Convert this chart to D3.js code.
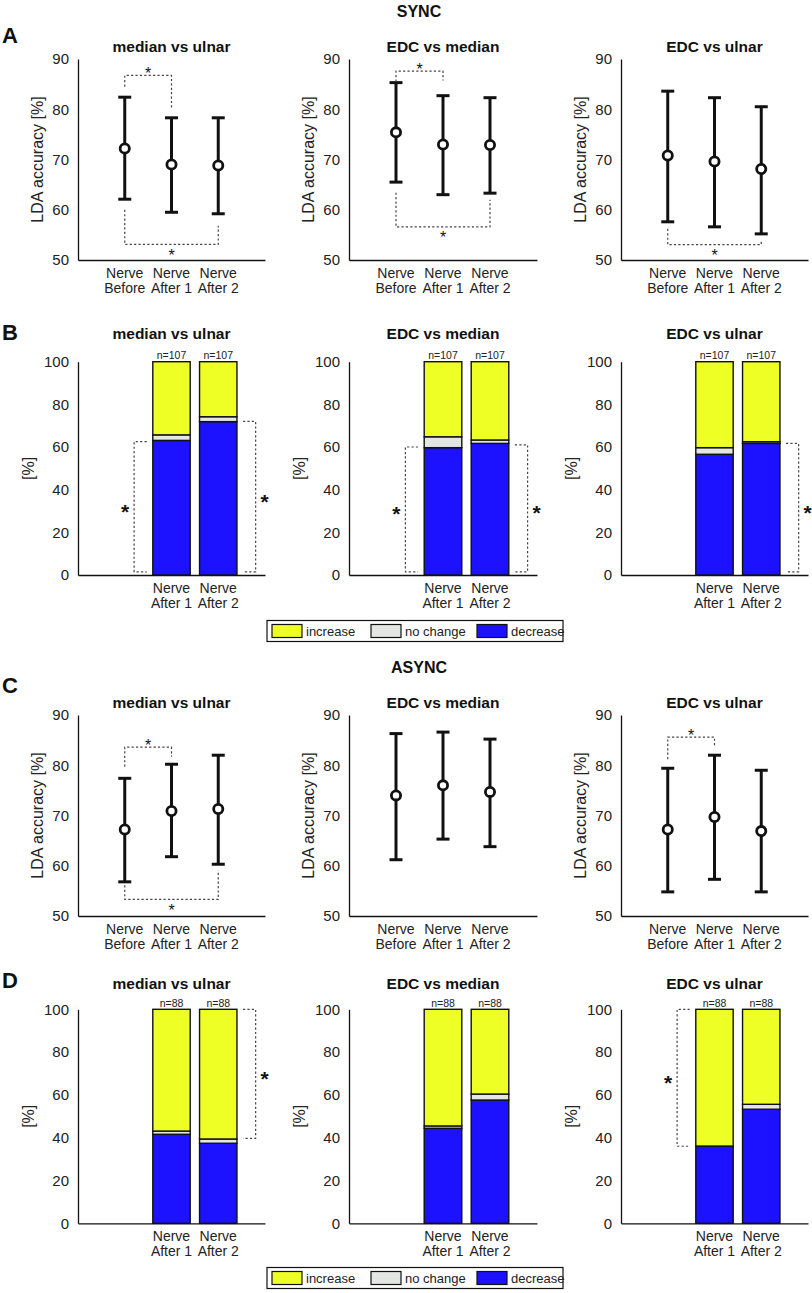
<!DOCTYPE html>
<html><head><meta charset="utf-8">
<script src="https://cdn.jsdelivr.net/npm/d3@7"></script>
<style>body{margin:0;background:#fff;} svg{display:block;font-family:Arial,"Liberation Sans",sans-serif;}</style>
</head><body><svg id="c" width="812" height="1293"></svg>
<script>
// ---------------- DATA ----------------
const pairs = ["median vs ulnar", "EDC vs median", "EDC vs ulnar"];
const categories = ["Nerve\nBefore", "Nerve\nAfter 1", "Nerve\nAfter 2"];
const accTicks = [50, 60, 70, 80, 90];
const pctTicks = [0, 20, 40, 60, 80, 100];

// SYNC: LDA accuracy (mean, upper and lower error bar ends)
const syncMean  = [[72.2, 69.0, 68.8], [75.4, 73.0, 72.9], [70.8, 69.6, 68.1]];
const syncUpper = [[82.4, 78.3, 78.3], [85.3, 82.7, 82.3], [83.6, 82.3, 80.5]];
const syncLower = [[62.1, 59.5, 59.2], [65.5, 63.0, 63.3], [57.6, 56.6, 55.2]];
// ASYNC
const asyncMean  = [[67.2, 70.9, 71.3], [74.0, 76.0, 74.7], [67.2, 69.7, 66.9]];
const asyncUpper = [[77.4, 80.2, 82.0], [86.3, 86.6, 85.2], [79.4, 82.0, 79.0]];
const asyncLower = [[56.8, 61.8, 60.3], [61.2, 65.3, 63.8], [54.8, 57.3, 54.8]];

// Stacked bars (After 1, After 2) in %
const syncDecrease = [[63.1, 71.9], [59.7, 61.7], [56.6, 61.7]];
const syncNoChange = [[2.6, 2.3], [5.1, 1.6], [3.1, 0.8]];
const syncIncrease = [[34.3, 25.8], [35.2, 36.7], [40.3, 37.5]];
const asyncDecrease = [[41.6, 37.4], [44.4, 57.6], [36.1, 53.3]];
const asyncNoChange = [[1.5, 2.0], [1.1, 2.8], [0.0, 2.3]];
const asyncIncrease = [[56.9, 60.6], [54.5, 39.6], [63.9, 44.4]];
const syncN = [107, 107];
const asyncN = [88, 88];
const legendLabels = ["increase", "no change", "decrease"];

// significance brackets on accuracy panels: [pair, fromCat, toCat, level, endFrom, endTo, side]
const syncAccSig = [
  [0, 0, 1, 86.75, 84.5, 79.9, "top"],
  [0, 0, 2, 53.1, 60.0, 56.8, "bottom"],
  [1, 0, 1, 87.6, 85.5, 85.7, "top"],
  [1, 0, 2, 56.6, 63.4, 62.0, "bottom"],
  [2, 0, 2, 53.05, 56.2, 54.0, "bottom"]
];
const asyncAccSig = [
  [0, 0, 1, 83.6, 79.7, 81.7, "top"],
  [0, 0, 2, 53.3, 56.1, 59.1, "bottom"],
  [2, 0, 1, 85.6, 81.2, 83.9, "top"]
];
// significance brackets on bar panels: [pair, barIndex, side, from, to]
const syncBarSig = [
  [0, 0, "left", 1.5, 62.5],
  [0, 1, "right", 1.5, 72.0],
  [1, 0, "left", 1.5, 60.0],
  [1, 1, "right", 1.5, 61.0],
  [2, 1, "right", 1.5, 61.7]
];
const asyncBarSig = [
  [0, 1, "right", 39.7, 100],
  [2, 0, "left", 36.0, 100]
];

// ---------------- LAYOUT ----------------
const svg = d3.select("#c");
const FONT = "Arial, 'Liberation Sans', sans-serif";
const colRange = [[78, 265], [349, 537], [621, 808]];
const colors = {increase: "#eeff26", nochange: "#e3e6e3", decrease: "#1c12ff"};
const xOf = c => d3.scaleLinear().domain([0, 4]).range(colRange[c]);

function styleAxis(g) {
  g.select(".domain").attr("stroke", "#111").attr("stroke-width", 1.3);
  g.selectAll("text").attr("font-size", 15).attr("fill", "#222").attr("font-family", FONT);
}

function frame(c, y, ticks, yTitle, yTitleOff) {
  const x = xOf(c);
  const [yb, yt] = y.range();
  const gy = svg.append("g").attr("transform", `translate(${colRange[c][0]},0)`)
    .call(d3.axisLeft(y).tickValues(ticks).tickSize(0).tickPadding(9).tickSizeOuter(0));
  styleAxis(gy);
  const gx = svg.append("g").attr("transform", `translate(0,${yb})`)
    .call(d3.axisBottom(x).tickValues([]).tickSizeOuter(0));
  styleAxis(gx);
  svg.append("text").attr("transform", `translate(${colRange[c][0] - yTitleOff},${(yb + yt) / 2}) rotate(-90)`)
    .attr("text-anchor", "middle").attr("dominant-baseline", "central")
    .attr("font-size", 16).attr("fill", "#222").attr("font-family", FONT).text(yTitle);
  return x;
}

function catLabels(x, yb, idxs) {
  idxs.forEach(i => {
    const lines = categories[i].split("\n");
    lines.forEach((ln, k) => {
      svg.append("text").attr("x", x(i + 1)).attr("y", yb + 17.5 + k * 15.5)
        .attr("text-anchor", "middle").attr("font-size", 14).attr("fill", "#222")
        .attr("font-family", FONT).text(ln);
    });
  });
}

function title(c, yBase, txt) {
  svg.append("text").attr("x", (colRange[c][0] + colRange[c][1]) / 2).attr("y", yBase)
    .attr("text-anchor", "middle").attr("font-size", 15.5).attr("font-weight", "bold")
    .attr("fill", "#111").attr("font-family", FONT).text(txt);
}

function star(xp, cy, fs, bold) {
  svg.append("text").attr("x", xp).attr("y", cy + 0.57 * fs).attr("text-anchor", "middle")
    .attr("font-size", fs).attr("font-weight", bold ? "bold" : "normal")
    .attr("fill", "#111").attr("font-family", FONT).text("*");
}

function dotted(d) {
  svg.append("path").attr("d", d).attr("fill", "none").attr("stroke", "#444")
    .attr("stroke-width", 1.2).attr("stroke-dasharray", "2.2,2.2");
}

function accRow(yRange, mean, upper, lower, sig, titleBase) {
  const y = d3.scaleLinear().domain([50, 90]).range(yRange);
  for (let c = 0; c < 3; c++) {
    const x = frame(c, y, accTicks, "LDA accuracy [%]", 41);
    title(c, titleBase, pairs[c]);
    catLabels(x, yRange[0], [0, 1, 2]);
    const g = svg.append("g");
    mean[c].forEach((m, i) => {
      const xp = x(i + 1);
      g.append("line").attr("x1", xp).attr("x2", xp).attr("y1", y(lower[c][i])).attr("y2", y(upper[c][i]))
        .attr("stroke", "#111").attr("stroke-width", 3);
      [upper[c][i], lower[c][i]].forEach(v => g.append("line").attr("x1", xp - 6.5).attr("x2", xp + 6.5)
        .attr("y1", y(v)).attr("y2", y(v)).attr("stroke", "#111").attr("stroke-width", 3));
      g.append("circle").attr("cx", xp).attr("cy", y(m)).attr("r", 4.6)
        .attr("fill", "#fff").attr("stroke", "#111").attr("stroke-width", 2.8);
    });
  }
  sig.forEach(([c, a, b, lvl, e1, e2, side]) => {
    const x = xOf(c);
    dotted(`M${x(a + 1)},${y(e1)}V${y(lvl)}H${x(b + 1)}V${y(e2)}`);
    const mx = (x(a + 1) + x(b + 1)) / 2;
    star(mx, side === "top" ? y(lvl) - 5.5 : y(lvl) + 7.5, 16, false);
  });
}

function barRow(yRange, dec, nc, inc, nArr, sig, titleBase, legendY) {
  const y = d3.scaleLinear().domain([0, 100]).range(yRange);
  for (let c = 0; c < 3; c++) {
    const x = frame(c, y, pctTicks, "[%]", 50);
    title(c, titleBase, pairs[c]);
    catLabels(x, yRange[0], [1, 2]);
    const u = x(1) - x(0);
    [0, 1].forEach(b => {
      const xc = x(b + 2);
      const segs = [[0, dec[c][b], colors.decrease],
                    [dec[c][b], dec[c][b] + nc[c][b], colors.nochange],
                    [dec[c][b] + nc[c][b], dec[c][b] + nc[c][b] + inc[c][b], colors.increase]];
      segs.forEach(([s, e, col]) => {
        if (e - s <= 0) return;
        svg.append("rect").attr("x", xc - 0.4 * u).attr("width", 0.8 * u)
          .attr("y", y(e)).attr("height", y(s) - y(e))
          .attr("fill", col).attr("stroke", "#111").attr("stroke-width", 1.4);
      });
      svg.append("text").attr("x", xc).attr("y", y(100) - 2.5).attr("text-anchor", "middle")
        .attr("font-size", 10.5).attr("fill", "#222").attr("font-family", FONT).text("n=" + nArr[b]);
    });
  }
  sig.forEach(([c, b, side, from, to]) => {
    const x = xOf(c);
    const xc = b + 2;
    const s = side === "left" ? -1 : 1;
    const xv = x(xc + s * 0.8), xt = x(xc + s * 0.53);
    dotted(`M${xt},${y(to)}H${xv}V${y(from)}H${xt}`);
    star(xv + s * 9, (y(from) + y(to)) / 2, 21, true);
  });
  // legend
  const lg = svg.append("g");
  const lx = 267, lw = 296, lh = 21;
  lg.append("rect").attr("x", lx).attr("y", legendY - lh / 2).attr("width", lw).attr("height", lh)
    .attr("fill", "#fff").attr("stroke", "#111").attr("stroke-width", 1.2);
  const sw = [272, 371, 477];
  const cols = [colors.increase, colors.nochange, colors.decrease];
  legendLabels.forEach((t, i) => {
    lg.append("rect").attr("x", sw[i]).attr("y", legendY - 6.5).attr("width", 30).attr("height", 13)
      .attr("fill", cols[i]).attr("stroke", "#111").attr("stroke-width", 1.2);
    lg.append("text").attr("x", sw[i] + 34).attr("y", legendY + 4.5).attr("font-size", 13)
      .attr("fill", "#222").attr("font-family", FONT).text(t);
  });
}

// headers and panel letters
function bigText(x, yb, t, fs, anchor) {
  svg.append("text").attr("x", x).attr("y", yb).attr("text-anchor", anchor)
    .attr("font-size", fs).attr("font-weight", "bold").attr("fill", "#111").attr("font-family", FONT).text(t);
}
bigText(419, 17, "SYNC", 16, "middle");
bigText(419, 673, "ASYNC", 16, "middle");
bigText(2, 43, "A", 22, "start");
bigText(2, 340, "B", 22, "start");
bigText(2, 693, "C", 22, "start");
bigText(2, 988, "D", 22, "start");

accRow([260, 59], syncMean, syncUpper, syncLower, syncAccSig, 51.5);
barRow([575, 361.7], syncDecrease, syncNoChange, syncIncrease, syncN, syncBarSig, 338.5, 631);
accRow([916, 715], asyncMean, asyncUpper, asyncLower, asyncAccSig, 707.5);
barRow([1223.3, 1009.3], asyncDecrease, asyncNoChange, asyncIncrease, asyncN, asyncBarSig, 988.5, 1278);
</script></body></html>
